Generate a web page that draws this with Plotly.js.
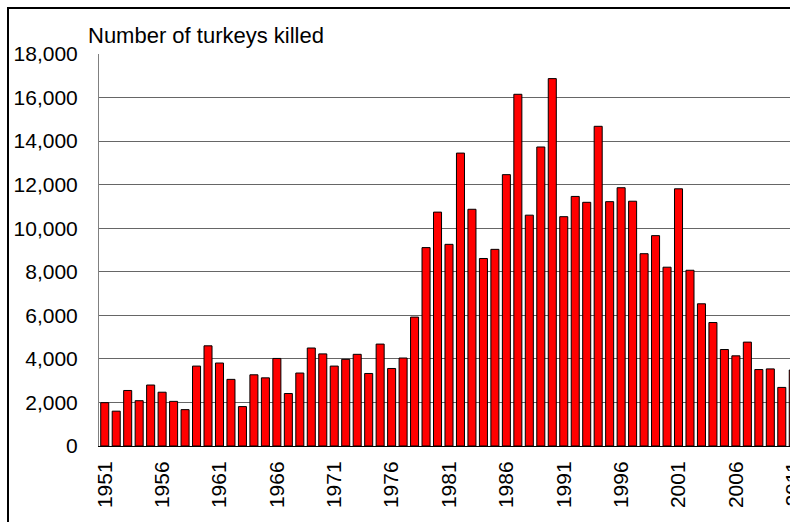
<!DOCTYPE html>
<html>
<head>
<meta charset="utf-8">
<script src="https://cdn.plot.ly/plotly-3.0.1.min.js"></script>
<style>
  html, body { margin: 0; padding: 0; background: #fff; overflow: hidden; width: 790px; height: 522px; }
  #chart { position: absolute; left: 0; top: 0; }
  #frame { position: absolute; left: 7px; top: 7px; width: 1000px; height: 1000px; border: 2px solid #000; pointer-events: none; z-index: 10; }
</style>
</head>
<body>
<div id="chart"></div>
<div id="frame"></div>
<script>
const years = [1951,1952,1953,1954,1955,1956,1957,1958,1959,1960,
  1961,1962,1963,1964,1965,1966,1967,1968,1969,1970,
  1971,1972,1973,1974,1975,1976,1977,1978,1979,1980,
  1981,1982,1983,1984,1985,1986,1987,1988,1989,1990,
  1991,1992,1993,1994,1995,1996,1997,1998,1999,2000,
  2001,2002,2003,2004,2005,2006,2007,2008,2009,2010,2011];
const turkeysKilled = [1990,1600,2550,2080,2800,2470,2050,1670,3670,4600,
  3810,3060,1810,3270,3130,4020,2410,3350,4500,4230,
  3670,3980,4210,3330,4680,3560,4040,5920,9110,10740,
  9260,13450,10870,8610,9030,12460,16150,10600,13730,16870,
  10530,11460,11190,14680,11220,11860,11240,8830,9660,8210,
  11810,8070,6530,5670,4430,4140,4770,3510,3540,2690,3490];
const xTickYears = [1951,1956,1961,1966,1971,1976,1981,1986,1991,1996,2001,2006,2011];
const xTickLabels = ["1951","1956","1961","1966","1971","1976","1981","1986","1991","1996","2001","2006","2011"];
const yTickValues = [0,2000,4000,6000,8000,10000,12000,14000,16000,18000];
const chartTitle = "Number of turkeys killed";

const font = "Liberation Sans, Arial, sans-serif";

const trace = {
  type: "bar",
  x: years,
  y: turkeysKilled,
  marker: { color: "#ff0000", line: { color: "#000000", width: 1 } },
  hoverinfo: "x+y"
};

const layout = {
  width: 820,
  height: 522,
  margin: { l: 99, r: 21, t: 54, b: 76, pad: 0 },
  paper_bgcolor: "rgba(0,0,0,0)",
  plot_bgcolor: "#ffffff",
  bargap: 0.3,
  showlegend: false,
  font: { family: font, size: 21, color: "#000" },
  xaxis: {
    range: [1950.5, 2011.5],
    tickmode: "array",
    tickvals: xTickYears,
    ticktext: xTickLabels,
    tickangle: -90,
    ticks: "",
    showgrid: false,
    zeroline: false,
    showline: true,
    linecolor: "#000000",
    linewidth: 1,
    ticklabelstandoff: 6,
    tickfont: { family: font, size: 21, color: "#000" }
  },
  yaxis: {
    range: [0, 18000],
    tickmode: "array",
    tickvals: yTickValues,
    tickformat: ",d",
    ticks: "",
    showgrid: true,
    gridcolor: "#666666",
    gridwidth: 1.2,
    zeroline: false,
    showline: true,
    linecolor: "#808080",
    linewidth: 1,
    ticklabelstandoff: 16,
    tickfont: { family: font, size: 21, color: "#000" }
  },
  annotations: [{
    text: chartTitle,
    xref: "paper", yref: "paper",
    x: 0, y: 1,
    xanchor: "left", yanchor: "bottom",
    xshift: -13, yshift: 4,
    showarrow: false,
    font: { family: font, size: 22, color: "#000" }
  }]
};

Plotly.newPlot("chart", [trace], layout, { staticPlot: true, displayModeBar: false });
</script>
</body>
</html>
